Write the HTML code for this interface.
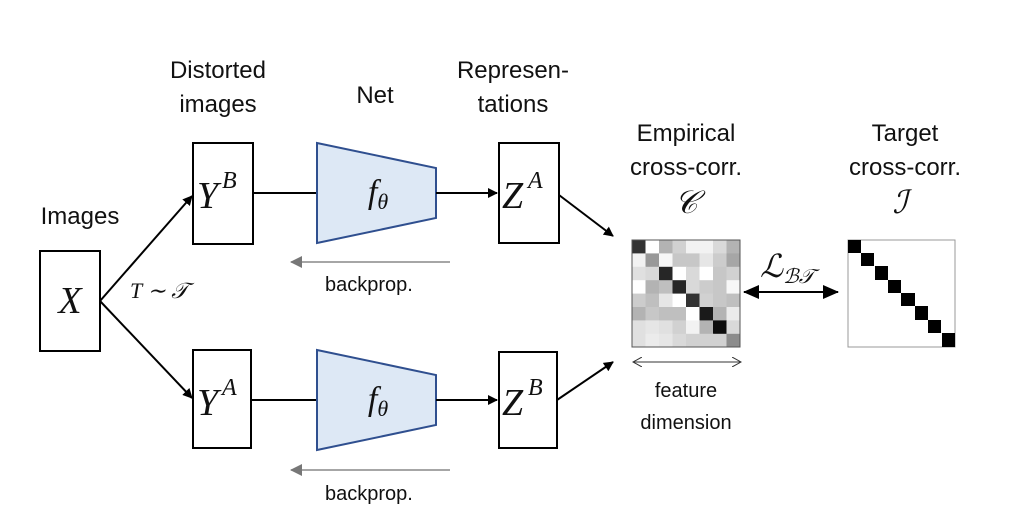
<!DOCTYPE html>
<html><head><meta charset="utf-8"><style>
body{margin:0;background:#fff}
svg{display:block}
.t{font-family:"Liberation Sans",sans-serif;font-size:24px;fill:#111}
.s{font-family:"Liberation Sans",sans-serif;font-size:20px;fill:#111}
.m{font-family:"Liberation Serif",serif;font-style:italic;fill:#111}
</style></head><body>
<svg width="1023" height="525" viewBox="0 0 1023 525" xmlns="http://www.w3.org/2000/svg">
<defs>
<marker id="a" markerWidth="10" markerHeight="10" refX="9" refY="5" orient="auto" markerUnits="userSpaceOnUse"><path d="M0,0 L10,5 L0,10 z" fill="#000"/></marker>
<marker id="a2" markerWidth="16" markerHeight="14" refX="15" refY="7" orient="auto-start-reverse" markerUnits="userSpaceOnUse"><path d="M0,0 L16,7 L0,14 z" fill="#000"/></marker>
<marker id="g" markerWidth="12" markerHeight="12" refX="11" refY="6" orient="auto" markerUnits="userSpaceOnUse"><path d="M0,0 L12,6 L0,12 z" fill="#777"/></marker>
<marker id="o" markerWidth="10" markerHeight="10" refX="9" refY="5" orient="auto-start-reverse" markerUnits="userSpaceOnUse"><path d="M0,0 L9,5 L0,10" fill="none" stroke="#333" stroke-width="1"/></marker>
</defs>
<text class="t" x="80" y="224" text-anchor="middle">Images</text>
<text class="t" x="218" y="78" text-anchor="middle">Distorted</text>
<text class="t" x="218" y="112" text-anchor="middle">images</text>
<text class="t" x="375" y="103" text-anchor="middle">Net</text>
<text class="t" x="513" y="78" text-anchor="middle">Represen-</text>
<text class="t" x="513" y="112" text-anchor="middle">tations</text>
<text class="t" x="686" y="141" text-anchor="middle">Empirical</text>
<text class="t" x="686" y="175" text-anchor="middle">cross-corr.</text>
<text class="t" x="905" y="141" text-anchor="middle">Target</text>
<text class="t" x="905" y="175" text-anchor="middle">cross-corr.</text>
<text class="m" x="686" y="213" font-size="32" text-anchor="middle">𝒞</text>
<text class="m" x="900" y="213" font-size="32" text-anchor="middle">ℐ</text>
<rect x="40" y="251" width="60" height="100" fill="none" stroke="#000" stroke-width="2"/>
<text class="m" x="70" y="313" font-size="38" text-anchor="middle">X</text>
<line x1="100" y1="301" x2="192" y2="196" stroke="#000" stroke-width="2" marker-end="url(#a)"/>
<line x1="100" y1="301" x2="192" y2="398" stroke="#000" stroke-width="2" marker-end="url(#a)"/>
<text class="m" x="130" y="298" font-size="22">T ∼ 𝒯</text>
<rect x="193" y="143" width="60" height="101" fill="none" stroke="#000" stroke-width="2"/>
<text class="m" x="197" y="208" font-size="38">Y</text><text class="m" x="222" y="188" font-size="24">B</text>
<line x1="253" y1="193" x2="317" y2="193" stroke="#000" stroke-width="2"/>
<polygon points="317,143 436,168 436,218 317,243" fill="#dde8f5" stroke="#2f4f8f" stroke-width="2"/>
<text class="m" x="378" y="203" font-size="34" text-anchor="middle">f<tspan font-size="22" dy="6">θ</tspan></text>
<line x1="436" y1="193" x2="497" y2="193" stroke="#000" stroke-width="2" marker-end="url(#a)"/>
<rect x="499" y="143" width="60" height="100" fill="none" stroke="#000" stroke-width="2"/>
<text class="m" x="502" y="208" font-size="38">Z</text><text class="m" x="528" y="188" font-size="24">A</text>
<line x1="559" y1="195" x2="613" y2="236" stroke="#000" stroke-width="2" marker-end="url(#a)"/>
<line x1="450" y1="262" x2="291" y2="262" stroke="#888" stroke-width="1.5" marker-end="url(#g)"/>
<text class="s" x="325" y="291">backprop.</text>
<rect x="193" y="350" width="58" height="98" fill="none" stroke="#000" stroke-width="2"/>
<text class="m" x="197" y="415" font-size="38">Y</text><text class="m" x="222" y="395" font-size="24">A</text>
<line x1="251" y1="400" x2="317" y2="400" stroke="#000" stroke-width="2"/>
<polygon points="317,350 436,375 436,425 317,450" fill="#dde8f5" stroke="#2f4f8f" stroke-width="2"/>
<text class="m" x="378" y="410" font-size="34" text-anchor="middle">f<tspan font-size="22" dy="6">θ</tspan></text>
<line x1="436" y1="400" x2="497" y2="400" stroke="#000" stroke-width="2" marker-end="url(#a)"/>
<rect x="499" y="352" width="58" height="96" fill="none" stroke="#000" stroke-width="2"/>
<text class="m" x="502" y="415" font-size="38">Z</text><text class="m" x="528" y="395" font-size="24">B</text>
<line x1="557" y1="400" x2="613" y2="362" stroke="#000" stroke-width="2" marker-end="url(#a)"/>
<line x1="450" y1="470" x2="291" y2="470" stroke="#888" stroke-width="1.5" marker-end="url(#g)"/>
<text class="s" x="325" y="500">backprop.</text>
<!-- empirical matrix -->
<g transform="translate(0,240)">
<rect x="632" width="14" height="14" fill="#333"/><rect x="645.5" width="14" height="14" fill="#fff"/><rect x="659" width="14" height="14" fill="#b3b3b3"/><rect x="672.5" width="14" height="14" fill="#d1d1d1"/><rect x="686" width="14" height="14" fill="#f2f2f2"/><rect x="699.5" width="14" height="14" fill="#f2f2f2"/><rect x="713" width="14" height="14" fill="#d9d9d9"/><rect x="726.5" width="14" height="14" fill="#b3b3b3"/></g>
<g transform="translate(0,253.4)">
<rect x="632" width="14" height="14" fill="#f2f2f2"/><rect x="645.5" width="14" height="14" fill="#999"/><rect x="659" width="14" height="14" fill="#f7f7f7"/><rect x="672.5" width="14" height="14" fill="#c7c7c7"/><rect x="686" width="14" height="14" fill="#c7c7c7"/><rect x="699.5" width="14" height="14" fill="#e6e6e6"/><rect x="713" width="14" height="14" fill="#ccc"/><rect x="726.5" width="14" height="14" fill="#a6a6a6"/></g>
<g transform="translate(0,266.8)">
<rect x="632" width="14" height="14" fill="#e0e0e0"/><rect x="645.5" width="14" height="14" fill="#d9d9d9"/><rect x="659" width="14" height="14" fill="#262626"/><rect x="672.5" width="14" height="14" fill="#fff"/><rect x="686" width="14" height="14" fill="#d9d9d9"/><rect x="699.5" width="14" height="14" fill="#fff"/><rect x="713" width="14" height="14" fill="#c7c7c7"/><rect x="726.5" width="14" height="14" fill="#d1d1d1"/></g>
<g transform="translate(0,280.2)">
<rect x="632" width="14" height="14" fill="#fff"/><rect x="645.5" width="14" height="14" fill="#b3b3b3"/><rect x="659" width="14" height="14" fill="#bfbfbf"/><rect x="672.5" width="14" height="14" fill="#262626"/><rect x="686" width="14" height="14" fill="#d9d9d9"/><rect x="699.5" width="14" height="14" fill="#ccc"/><rect x="713" width="14" height="14" fill="#c7c7c7"/><rect x="726.5" width="14" height="14" fill="#f7f7f7"/></g>
<g transform="translate(0,293.6)">
<rect x="632" width="14" height="14" fill="#ccc"/><rect x="645.5" width="14" height="14" fill="#bfbfbf"/><rect x="659" width="14" height="14" fill="#e6e6e6"/><rect x="672.5" width="14" height="14" fill="#fff"/><rect x="686" width="14" height="14" fill="#333"/><rect x="699.5" width="14" height="14" fill="#d1d1d1"/><rect x="713" width="14" height="14" fill="#c7c7c7"/><rect x="726.5" width="14" height="14" fill="#bfbfbf"/></g>
<g transform="translate(0,307)">
<rect x="632" width="14" height="14" fill="#b3b3b3"/><rect x="645.5" width="14" height="14" fill="#c7c7c7"/><rect x="659" width="14" height="14" fill="#bfbfbf"/><rect x="672.5" width="14" height="14" fill="#bfbfbf"/><rect x="686" width="14" height="14" fill="#fff"/><rect x="699.5" width="14" height="14" fill="#1a1a1a"/><rect x="713" width="14" height="14" fill="#b3b3b3"/><rect x="726.5" width="14" height="14" fill="#ebebeb"/></g>
<g transform="translate(0,320.4)">
<rect x="632" width="14" height="14" fill="#e0e0e0"/><rect x="645.5" width="14" height="14" fill="#e6e6e6"/><rect x="659" width="14" height="14" fill="#e0e0e0"/><rect x="672.5" width="14" height="14" fill="#d1d1d1"/><rect x="686" width="14" height="14" fill="#f2f2f2"/><rect x="699.5" width="14" height="14" fill="#b3b3b3"/><rect x="713" width="14" height="14" fill="#0d0d0d"/><rect x="726.5" width="14" height="14" fill="#d9d9d9"/></g>
<g transform="translate(0,333.8)">
<rect x="632" width="14" height="13.2" fill="#e0e0e0"/><rect x="645.5" width="14" height="13.2" fill="#ebebeb"/><rect x="659" width="14" height="13.2" fill="#e6e6e6"/><rect x="672.5" width="14" height="13.2" fill="#d9d9d9"/><rect x="686" width="14" height="13.2" fill="#d1d1d1"/><rect x="699.5" width="14" height="13.2" fill="#d1d1d1"/><rect x="713" width="14" height="13.2" fill="#d1d1d1"/><rect x="726.5" width="13.5" height="13.2" fill="#8c8c8c"/></g>
<rect x="632" y="240" width="108" height="107" fill="none" stroke="#555" stroke-width="1"/>
<line x1="633" y1="362" x2="741" y2="362" stroke="#333" stroke-width="1" marker-start="url(#o)" marker-end="url(#o)"/>
<text class="s" x="686" y="397" text-anchor="middle">feature</text>
<text class="s" x="686" y="429" text-anchor="middle">dimension</text>
<text class="m" x="760" y="277" font-size="32">ℒ<tspan font-size="20" dy="6">ℬ𝒯</tspan></text>
<line x1="744" y1="292" x2="838" y2="292" stroke="#000" stroke-width="2" marker-start="url(#a2)" marker-end="url(#a2)"/>
<rect x="848" y="240" width="107" height="107" fill="#fff" stroke="#999" stroke-width="1"/>
<g fill="#000">
<rect x="848" y="240" width="13" height="13"/><rect x="861" y="253" width="13" height="13"/>
<rect x="875" y="266" width="13" height="14"/><rect x="888" y="280" width="13" height="13"/>
<rect x="901" y="293" width="14" height="13"/><rect x="915" y="306" width="13" height="14"/>
<rect x="928" y="320" width="13" height="13"/><rect x="942" y="333" width="13" height="14"/>
</g>
</svg>
</body></html>
